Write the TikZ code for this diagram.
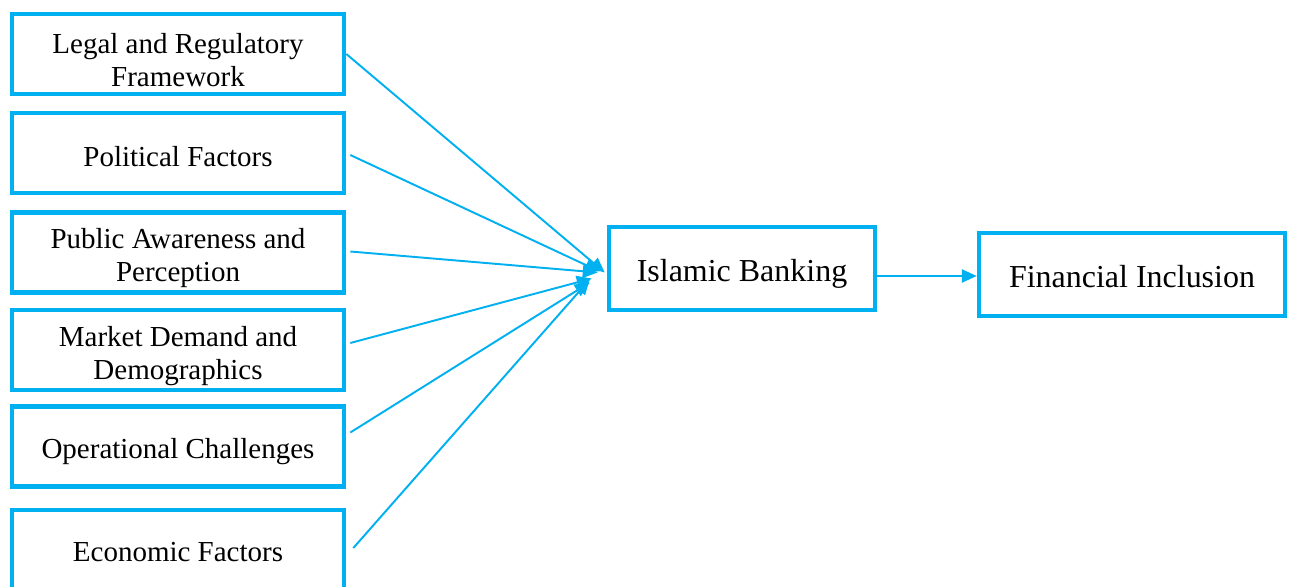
\documentclass[tikz,border=0pt]{standalone}
\usepackage{fontspec}
\setmainfont{Liberation Serif}
\usetikzlibrary{arrows.meta}
\definecolor{skyline}{HTML}{00B0F0}
\begin{document}
\begin{tikzpicture}[
	x=0.02cm, y=-0.02cm,
	f/.style = {rectangle, draw=skyline, line width=2.6pt, fill=white, minimum width=189pt, minimum height=45.5pt, align=center, inner sep=2pt, text height=15pt, font=\fontsize{16.5}{18.8}\selectfont},
	t/.style = {f, text height=37pt},
	m/.style = {rectangle, draw=skyline, line width=2.6pt, fill=white, minimum height=47pt, text height=18.5pt, font=\fontsize{18.2}{21}\selectfont},
	r/.style = {-{Triangle[length=8.5pt, width=7.5pt]}, draw=skyline, line width=1.1pt}
	]
	\useasboundingbox (0, 0) rectangle (1293, 587);
	
	% ===== ===== ===== ===== =====
	
	% Nodes
	\node[t]	(legal)	at	(178, 54)		{Legal and Regulatory\\Framework};
	\node[f]	(polit)	at	(178, 153)		{Political Factors};
	\node[t]	(aware)	at	(178, 252.5)	{Public Awareness and\\Perception};
	\node[t]	(market)	at	(178, 350)		{Market Demand and\\Demographics};
	\node[f, text height=17.5pt]	(oper)	at	(178, 446.5)	{Operational Challenges};
	\node[f, text height=13.5pt]	(econ)	at	(178, 550)		{Economic Factors};
	
	\node[m, minimum width=266pt*0.5692]	(bank)	at	(742, 268.5)	{Islamic Banking};
	\node[m, minimum width=306pt*0.5692, text height=15pt]	(incl)	at	(1132, 274.5)	{Financial Inclusion};
	
	
	
	% Lines
	\draw[r]	(legal.east)	--	([shift={(-2, 4)}]bank.west);
	\draw[r]	([shift={(4, 2)}]polit.east)	--	([shift={(-7, 3)}]bank.west);
	\draw[r]	([shift={(4, -1)}]aware.east)	--	([shift={(-9, 4)}]bank.west);
	\draw[r]	([shift={(4, -7)}]market.east)	--	([shift={(-15, 10)}]bank.west);
	\draw[r]	([shift={(4, -14)}]oper.east)	--	([shift={(-17, 14)}]bank.west);
	\draw[r]	([shift={(7, -2)}]econ.east)	--	([shift={(-17, 11)}]bank.west);
	
	\draw[r]	([shift={(0, 7.5)}]bank.east)	--	([shift={(0, 1.5)}]incl.west);
	
\end{tikzpicture}
\end{document}
